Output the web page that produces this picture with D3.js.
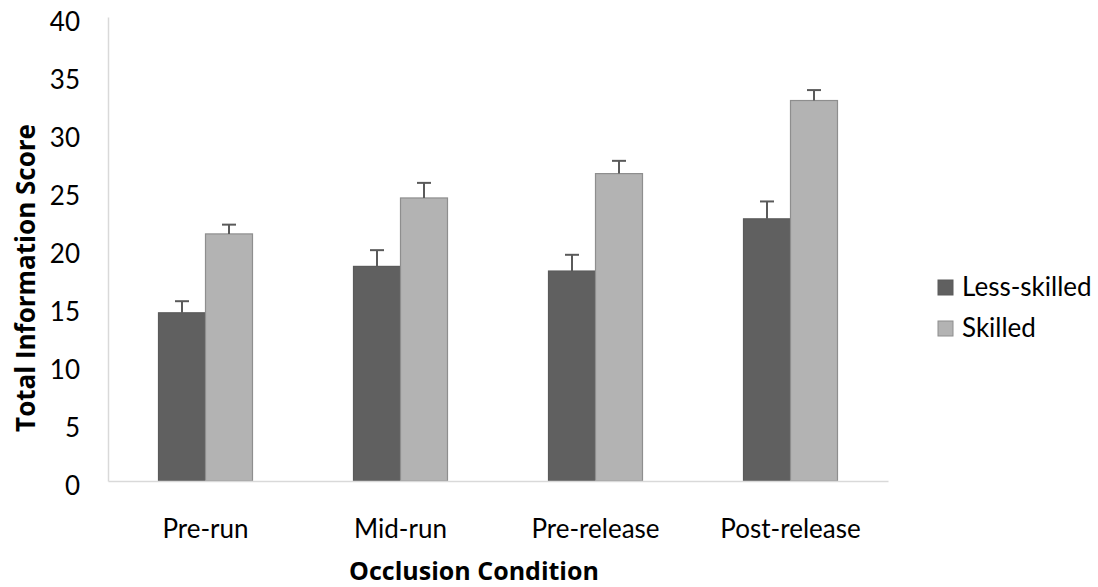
<!DOCTYPE html>
<html>
<head>
<meta charset="utf-8">
<script src="https://cdn.jsdelivr.net/npm/d3@7"></script>
<style>
  body { margin: 0; background: #fff; }
  text { font-family: Lato, "Open Sans", sans-serif; fill: #000; }
  .title { font-family: "Open Sans", Lato, sans-serif; }
</style>
</head>
<body>
<div id="chart"></div>
<script>
// data
var conditions = ["Pre-run", "Mid-run", "Pre-release", "Post-release"];
var groups = ["Less-skilled", "Skilled"];
var lessSkilled = [14.5, 18.5, 18.1, 22.6];
var lessSkilledErr = [1.0, 1.4, 1.4, 1.5];
var skilled = [21.3, 24.4, 26.5, 32.8];
var skilledErr = [0.8, 1.3, 1.1, 0.9];
var yTicks = [0, 5, 10, 15, 20, 25, 30, 35, 40];

var width = 1098, height = 587;
var margin = {top: 17, left: 108, right: 210, bottom: 106};

var color = d3.scaleOrdinal().domain(groups).range(["#606060", "#b3b3b3"]);
var stroke = d3.scaleOrdinal().domain(groups).range(["#5a5a5a", "#8e8e8e"]);

var x = d3.scaleBand()
    .domain(conditions)
    .range([margin.left, width - margin.right])
    .paddingInner(0)
    .paddingOuter(0);

var x1 = d3.scaleBand()
    .domain(groups)
    .range([0, 94]);

var y = d3.scaleLinear()
    .domain([0, 40])
    .range([height - margin.bottom, margin.top]);

var svg = d3.select("#chart").append("svg")
    .attr("width", width)
    .attr("height", height);

// build rows
var rows = [];
conditions.forEach(function(c, i) {
  rows.push({cond: c, group: groups[0], value: lessSkilled[i], err: lessSkilledErr[i]});
  rows.push({cond: c, group: groups[1], value: skilled[i], err: skilledErr[i]});
});

var barX = function(d) { return x(d.cond) + x.bandwidth() / 2 - 47 + x1(d.group); };

svg.selectAll(".bar").data(rows)
  .enter().append("rect")
    .attr("class", "bar")
    .attr("x", barX)
    .attr("y", function(d) { return y(d.value); })
    .attr("width", x1.bandwidth())
    .attr("height", function(d) { return y(0) - y(d.value); })
    .attr("fill", function(d) { return color(d.group); })
    .attr("stroke", function(d) { return stroke(d.group); })
    .attr("stroke-width", 1.2);

// error bars (upper only)
var eb = svg.selectAll(".err").data(rows).enter().append("g").attr("class", "err");
eb.append("line")
    .attr("x1", function(d) { return barX(d) + x1.bandwidth() / 2; })
    .attr("x2", function(d) { return barX(d) + x1.bandwidth() / 2; })
    .attr("y1", function(d) { return y(d.value); })
    .attr("y2", function(d) { return y(d.value + d.err); })
    .attr("stroke", "#5a5a5a").attr("stroke-width", 2);
eb.append("line")
    .attr("x1", function(d) { return barX(d) + x1.bandwidth() / 2 - 7; })
    .attr("x2", function(d) { return barX(d) + x1.bandwidth() / 2 + 7; })
    .attr("y1", function(d) { return y(d.value + d.err); })
    .attr("y2", function(d) { return y(d.value + d.err); })
    .attr("stroke", "#5a5a5a").attr("stroke-width", 2);

// axes
var yAxis = svg.append("g")
    .attr("transform", "translate(" + margin.left + ",0)")
    .call(d3.axisLeft(y).tickValues(yTicks).tickSize(0).tickPadding(28));
yAxis.select(".domain").attr("stroke", "#d9d9d9").attr("stroke-width", 1.5);
yAxis.selectAll("text").style("font-size", "26px").attr("dy", "0.5em");

var xAxis = svg.append("g")
    .attr("transform", "translate(0," + y(0) + ")")
    .call(d3.axisBottom(x).tickSize(0).tickPadding(39));
xAxis.select(".domain").attr("stroke", "#d9d9d9").attr("stroke-width", 1.5);
xAxis.selectAll("text").style("font-size", "26px");

// axis titles
svg.append("text")
    .attr("class", "title")
    .attr("x", 474)
    .attr("y", 580)
    .attr("text-anchor", "middle")
    .style("font-size", "25px")
    .style("font-weight", "bold")
    .text("Occlusion Condition");

svg.append("text")
    .attr("class", "title")
    .attr("transform", "translate(35,278) rotate(-90)")
    .attr("text-anchor", "middle")
    .style("font-size", "26px")
    .style("font-weight", "bold")
    .text("Total Information Score");

// legend
var legend = svg.selectAll(".legend-entry").data(groups)
  .enter().append("g")
    .attr("class", "legend-entry")
    .attr("transform", function(d, i) { return "translate(938," + (280 + i * 41) + ")"; });
legend.append("rect")
    .attr("width", 15).attr("height", 15)
    .attr("fill", function(d) { return color(d); })
    .attr("stroke", function(d) { return stroke(d); });
legend.append("text")
    .attr("x", 24).attr("y", 16)
    .style("font-size", "26px")
    .text(function(d) { return d; });
</script>
</body>
</html>
